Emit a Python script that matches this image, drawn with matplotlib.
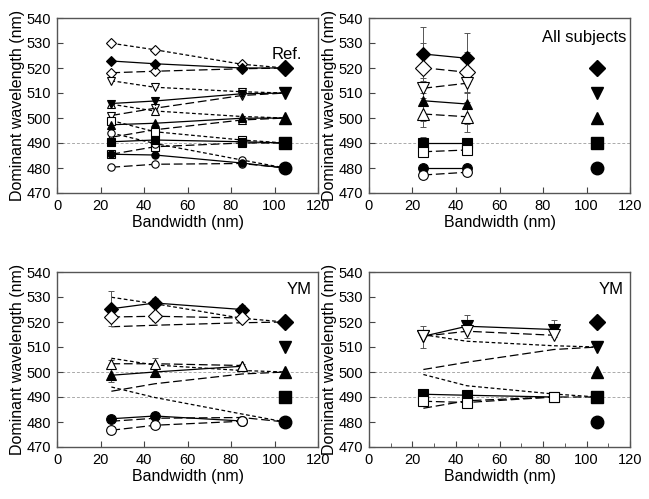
import matplotlib
matplotlib.use("Agg")
import matplotlib.pyplot as plt
from matplotlib.ticker import MultipleLocator

plt.rcParams['font.family'] = ['Liberation Sans', 'DejaVu Sans']

# ---------------- data ----------------
bw_ref = [25, 45, 85, 105]
bw_all = [25, 45]
bw_ym = [25, 45, 85]
ref_x = 105
ref_values = [520, 510, 500, 490, 480]
ref_markers = ['D', 'v', '^', 's', 'o']

# Ref. panel (solid = filled, dashed/dotted = open)
ref_dia_solid = [522.8, 521.7, 520.0, 520]
ref_dia_dash = [518.1, 518.7, 519.7, 520]
ref_dia_dot = [529.9, 527.3, 521.5, 520]
ref_tdn_solid = [505.8, 506.8, 509.7, 510]
ref_tdn_dash = [501.0, 503.9, 509.0, 510]
ref_tdn_dot = [514.9, 512.3, 510.5, 510]
ref_tup_solid = [497.3, 497.9, 499.9, 500]
ref_tup_dash = [492.3, 495.3, 499.2, 500]
ref_tup_dot = [505.5, 502.8, 500.6, 500]
ref_sq_solid = [490.5, 491.2, 490.5, 490]
ref_sq_dash = [485.5, 488.5, 490.0, 490]
ref_sq_dot = [499.0, 494.5, 491.2, 490]
ref_ci_solid = [485.5, 485.2, 482.0, 480]
ref_ci_dash = [480.3, 481.5, 481.8, 480]
ref_ci_dot = [494.0, 489.8, 483.2, 480]

# All subjects
all_dia_solid = [525.6, 523.9]; all_dia_solid_err = [11, 10]
all_dia_dash = [520.1, 518.3]; all_dia_dash_err = [10, 8]
all_tdn_dash = [511.9, 513.9]; all_tdn_dash_err = [4, 4]
all_tup_solid = [506.9, 505.6]; all_tup_solid_err = [8, 8]
all_tup_dash = [501.6, 500.5]; all_tup_dash_err = [5, 6]
all_sq_solid = [489.9, 489.9]; all_sq_solid_err = [2.6, 2]
all_sq_dash = [486.5, 487.2]; all_sq_dash_err = [2, 2]
all_ci_solid = [480.1, 480.1]; all_ci_solid_err = [1, 1]
all_ci_dash = [477.2, 478.3]; all_ci_dash_err = [1, 1]

# YM (bottom-left)
ym_dia_solid = [525.3, 527.6, 525.0]; ym_dia_solid_err = [7, 2, 2]
ym_dia_dash = [522.0, 522.3, 521.6]; ym_dia_dash_err = [3.7, 2, 1]
ym_tup_solid = [498.7, 500.0, 502.3]; ym_tup_solid_err = [2.5, 2, 0.5]
ym_tup_dash = [503.3, 503.3, 502.6]; ym_tup_dash_err = [1.7, 2.5, 0.5]
ym_ci_solid = [481.3, 482.4, 480.4]; ym_ci_solid_err = [0.8, 0.8, 0.5]
ym_ci_dash = [476.7, 478.7, 480.3]; ym_ci_dash_err = [0.5, 0.5, 0.5]

# YM (bottom-right)
ym_tdn_solid = [514.3, 518.3, 517.0]; ym_tdn_solid_err = [4, 4.4, 3.7]
ym_tdn_dash = [514.3, 516.3, 514.7]; ym_tdn_dash_err = [4.5, 2.5, 0.5]
ym_sq_solid = [491.1, 490.7, 490.0]; ym_sq_solid_err = [0.8, 0.8, 0.3]
ym_sq_dash = [488.3, 487.8, 490.0]; ym_sq_dash_err = [0.5, 0.5, 0.3]

# ---------------- style ----------------
SOLID = '-'
DASH = (0, (7, 3))
DOT = (0, (3, 2))
LW = 0.9
GRID = '#aaaaaa'

fig = plt.figure(figsize=(6.49, 4.99), dpi=100)
L1, L2, W = 57/649, 369/649, 261/649
B1, B2, H = 1 - 193/499, 1 - 447/499, 175/499
ax_tl = fig.add_axes([L1, B1, W, H])
ax_tr = fig.add_axes([L2, B1, W, H])
ax_bl = fig.add_axes([L1, B2, W, H])
ax_br = fig.add_axes([L2, B2, W, H])


def setup(ax, hlines, minor=False):
    ax.set_xlim(0, 120)
    ax.set_ylim(470, 540)
    ax.xaxis.set_major_locator(MultipleLocator(20))
    ax.yaxis.set_major_locator(MultipleLocator(10))
    if minor:
        ax.xaxis.set_minor_locator(MultipleLocator(10))
        ax.tick_params(axis='x', which='minor', direction='in', length=3, color='#444444')
    ax.tick_params(axis='both', which='major', direction='in', length=4,
                   labelsize=10.5, color='#444444', pad=4)
    for s in ax.spines.values():
        s.set_color('#555555')
        s.set_linewidth(1.0)
    for h in hlines:
        ax.axhline(h, color=GRID, lw=0.7, ls=(0, (3, 2)), zorder=0)
    ax.set_xlabel('Bandwidth (nm)', fontsize=11.5, labelpad=2)
    ax.set_ylabel('Dominant wavelength (nm)', fontsize=11.5, labelpad=1)
    for v, m in zip(ref_values, ref_markers):
        ms = 8 if m in ('D', 's') else 9
        ax.plot([ref_x], [v], marker=m, ms=ms, color='black', ls='none', zorder=6)


def line(ax, x, y, ls, m=None, filled=True, ms=5, err=None, side='both'):
    kw = dict(color='black', lw=LW, ls=ls, zorder=4)
    if m is not None:
        kw.update(marker=m, ms=ms, mec='black', mew=0.8,
                  mfc='black' if filled else 'white')
    if err is not None:
        if side == 'up':
            yerr = [[0] * len(err), err]
        elif side == 'down':
            yerr = [err, [0] * len(err)]
        else:
            yerr = err
        ax.errorbar(x, y, yerr=yerr, fmt='none', ecolor='#555555', elinewidth=0.7,
                    capsize=2.5, capthick=0.7, zorder=3)
    ax.plot(x, y, **kw)


# ---------- top-left: Ref. ----------
setup(ax_tl, [490])
groups = [
    ('D', ref_dia_solid, ref_dia_dash, ref_dia_dot),
    ('v', ref_tdn_solid, ref_tdn_dash, ref_tdn_dot),
    ('^', ref_tup_solid, ref_tup_dash, ref_tup_dot),
    ('s', ref_sq_solid, ref_sq_dash, ref_sq_dot),
    ('o', ref_ci_solid, ref_ci_dash, ref_ci_dot),
]
for m, ys, yd, yt in groups:
    ms = 4.8 if m == 'D' else 5.3
    ax_tl.plot(bw_ref, yt, color='black', lw=LW, ls=DOT, zorder=3)
    ax_tl.plot(bw_ref[:3], yt[:3], ls='none', marker=m, ms=ms, mfc='white', mec='black', mew=0.8, zorder=4)
    ax_tl.plot(bw_ref, yd, color='black', lw=LW, ls=DASH, zorder=3)
    ax_tl.plot(bw_ref[:3], yd[:3], ls='none', marker=m, ms=ms, mfc='white', mec='black', mew=0.8, zorder=4)
    ax_tl.plot(bw_ref, ys, color='black', lw=LW, ls=SOLID, zorder=3)
    ax_tl.plot(bw_ref[:3], ys[:3], ls='none', marker=m, ms=ms, mfc='black', mec='black', mew=0.8, zorder=5)
ax_tl.text(0.94, 0.79, 'Ref.', transform=ax_tl.transAxes, fontsize=12,
           ha='right', va='center')

# ---------- top-right: All subjects ----------
setup(ax_tr, [490])
line(ax_tr, bw_all, all_dia_solid, SOLID, 'D', True, 7, all_dia_solid_err)
line(ax_tr, bw_all, all_dia_dash, DASH, 'D', False, 8, all_dia_dash_err)
line(ax_tr, bw_all, all_tdn_dash, DASH, 'v', False, 8, all_tdn_dash_err)
line(ax_tr, bw_all, all_tup_solid, SOLID, '^', True, 7, all_tup_solid_err)
line(ax_tr, bw_all, all_tup_dash, DASH, '^', False, 8, all_tup_dash_err)
line(ax_tr, bw_all, all_sq_solid, SOLID, 's', True, 7, all_sq_solid_err)
line(ax_tr, bw_all, all_sq_dash, DASH, 's', False, 7, all_sq_dash_err)
line(ax_tr, bw_all, all_ci_solid, SOLID, 'o', True, 7, all_ci_solid_err)
line(ax_tr, bw_all, all_ci_dash, DASH, 'o', False, 7, all_ci_dash_err)
ax_tr.text(0.985, 0.93, 'All subjects', transform=ax_tr.transAxes, fontsize=12,
           ha='right', va='top')

# ---------- bottom-left: YM ----------
setup(ax_bl, [500, 490])
for yd, yt in [(ref_dia_dash, ref_dia_dot), (ref_tup_dash, ref_tup_dot), (ref_ci_dash, ref_ci_dot)]:
    ax_bl.plot(bw_ref, yd, color='black', lw=LW, ls=DASH, zorder=2)
    ax_bl.plot(bw_ref, yt, color='black', lw=LW, ls=DOT, zorder=2)
line(ax_bl, bw_ym, ym_dia_solid, SOLID, 'D', True, 7, ym_dia_solid_err, 'up')
line(ax_bl, bw_ym, ym_dia_dash, DASH, 'D', False, 7, ym_dia_dash_err, 'down')
line(ax_bl, bw_ym, ym_tup_solid, SOLID, '^', True, 7, ym_tup_solid_err, 'down')
line(ax_bl, bw_ym, ym_tup_dash, DASH, '^', False, 7, ym_tup_dash_err, 'up')
line(ax_bl, bw_ym, ym_ci_solid, SOLID, 'o', True, 7, ym_ci_solid_err, 'up')
line(ax_bl, bw_ym, ym_ci_dash, DASH, 'o', False, 7, ym_ci_dash_err, 'down')
ax_bl.text(0.975, 0.94, 'YM', transform=ax_bl.transAxes, fontsize=12,
           ha='right', va='top')

# ---------- bottom-right: YM ----------
setup(ax_br, [500, 490], minor=True)
for yd, yt in [(ref_tdn_dash, ref_tdn_dot), (ref_sq_dash, ref_sq_dot)]:
    ax_br.plot(bw_ref, yd, color='black', lw=LW, ls=DASH, zorder=2)
    ax_br.plot(bw_ref, yt, color='black', lw=LW, ls=DOT, zorder=2)
line(ax_br, bw_ym, ym_tdn_solid, SOLID, 'v', True, 8, ym_tdn_solid_err, 'up')
line(ax_br, bw_ym, ym_tdn_dash, DASH, 'v', False, 8, ym_tdn_dash_err, 'down')
line(ax_br, bw_ym, ym_sq_solid, SOLID, 's', True, 7, ym_sq_solid_err, 'up')
line(ax_br, bw_ym, ym_sq_dash, DASH, 's', False, 7, ym_sq_dash_err, 'down')
ax_br.text(0.975, 0.94, 'YM', transform=ax_br.transAxes, fontsize=12,
           ha='right', va='top')

fig.savefig('out.png', dpi=100)
